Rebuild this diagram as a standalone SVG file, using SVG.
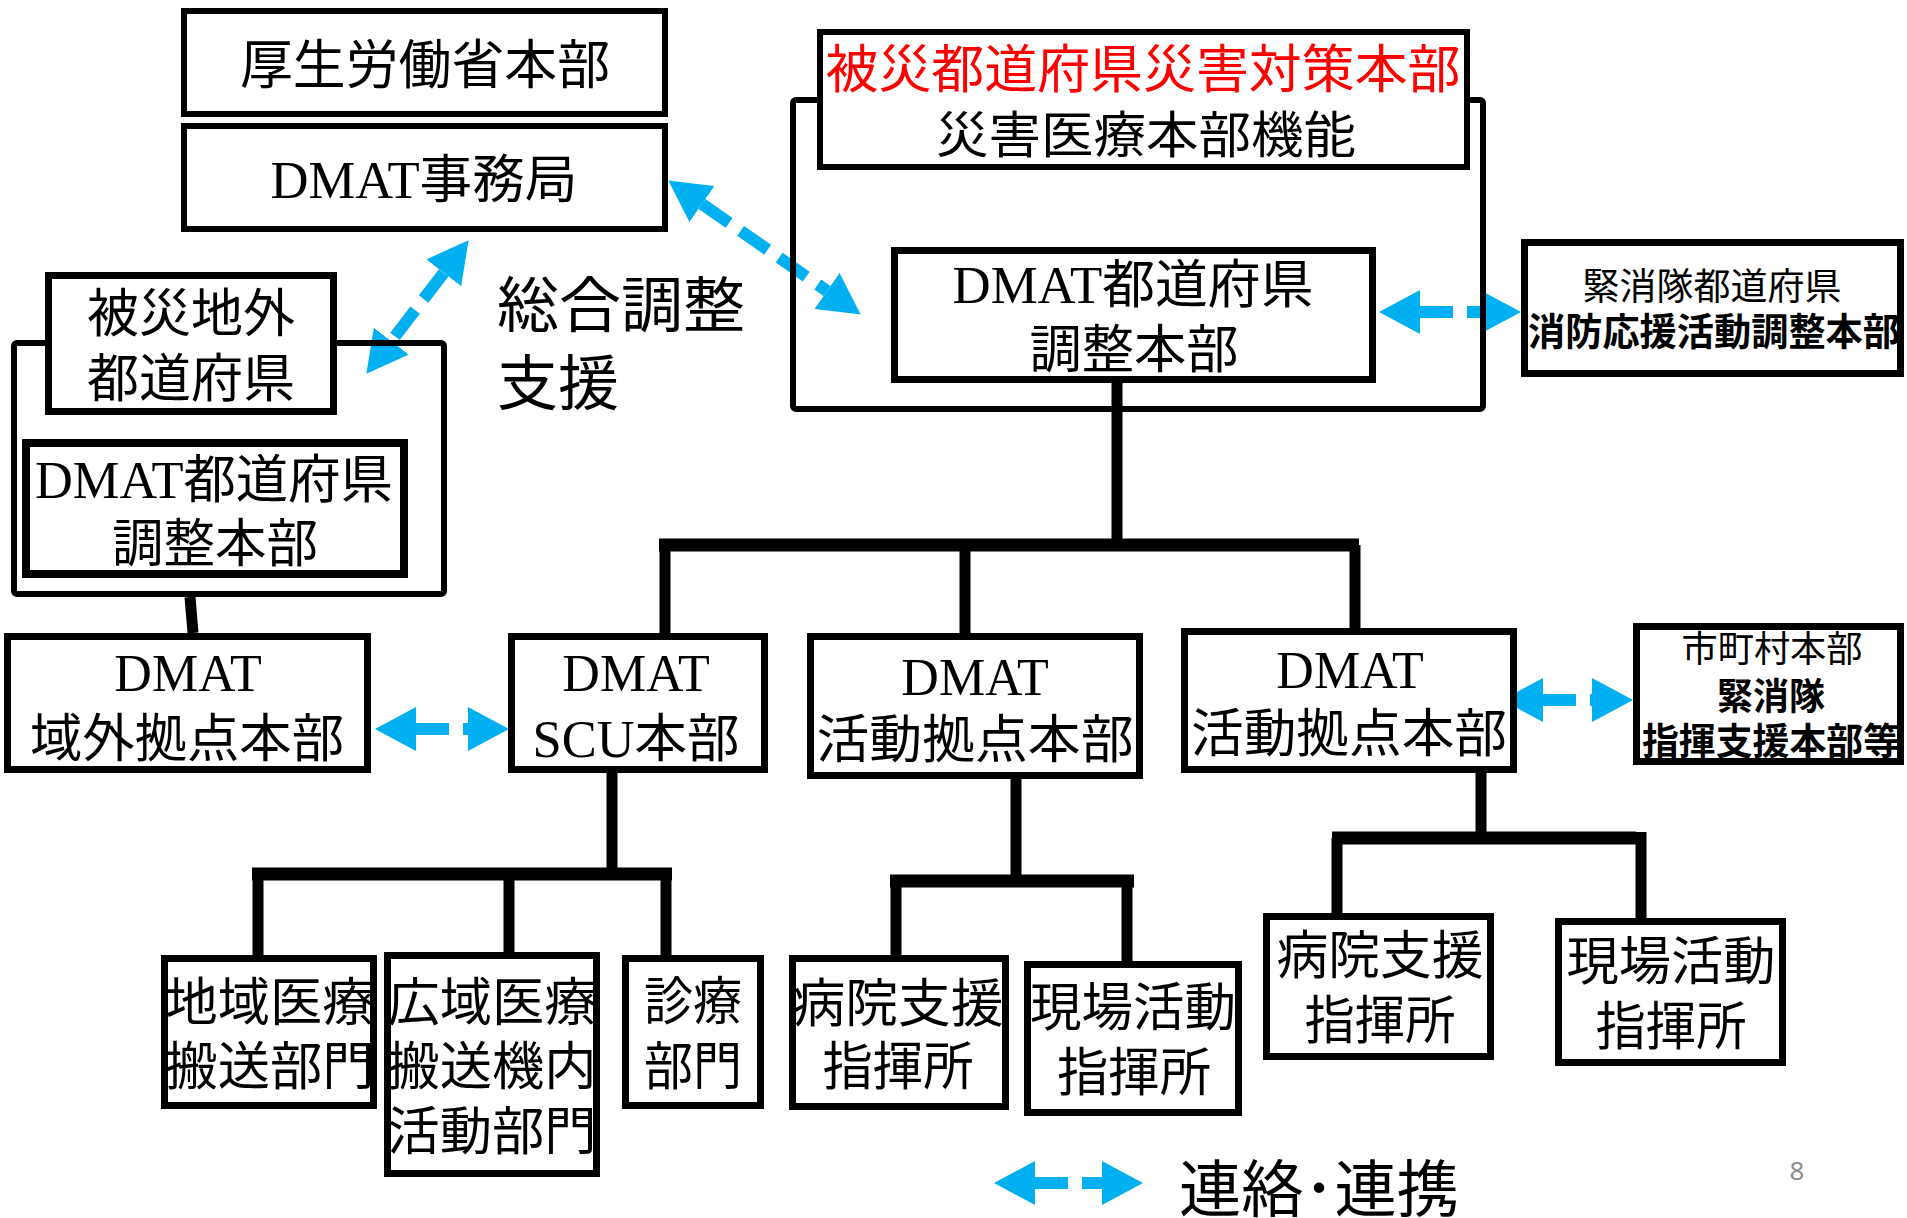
<svg xmlns="http://www.w3.org/2000/svg" width="1907" height="1218" viewBox="0 0 1907 1218">
<style>
.bx{fill:#fff;stroke:#000;stroke-width:7}
.ct{fill:none;stroke:#000;stroke-width:6}
.t{font-family:"Noto Sans CJK JP",sans-serif;font-size:52px;fill:#000;text-anchor:middle}
.m{font-family:"Liberation Serif","Noto Sans CJK JP",serif;font-size:52px;fill:#000;text-anchor:middle}
.b{font-weight:bold}
.s{text-anchor:start}
.tr{fill:none;stroke:#000;stroke-width:11}
.tb{fill:none;stroke:#000;stroke-width:13}
.cn{fill:none;stroke:#00B0F0;stroke-width:12;stroke-dasharray:33 14;marker-start:url(#ah);marker-end:url(#ah)}
</style>
<defs>
<marker id="ah" markerUnits="userSpaceOnUse" markerWidth="42" markerHeight="44" viewBox="0 0 42 44" refX="0" refY="22" orient="auto-start-reverse"><path d="M0,0 L41,22 L0,44 Z" fill="#00B0F0"/></marker>
</defs>
<rect width="1907" height="1218" fill="#fff"/>

<g id="connectors">
<path class="tr" d="M1117,383 V545"/>
<path class="tb" d="M659,545 H1359"/>
<path class="tr" d="M665,545 V633 M965,545 V633 M1355,545 V628"/>
<path class="tr" d="M190,597 L193,633"/>
<path class="tr" d="M612,773 V874"/>
<path class="tb" d="M252,874 H672"/>
<path class="tr" d="M258,874 V955 M509,874 V952 M666,874 V955"/>
<path class="tr" d="M1016,779 V881"/>
<path class="tb" d="M890,881 H1134"/>
<path class="tr" d="M896,881 V955 M1127,881 V961"/>
<path class="tr" d="M1481,773 V838"/>
<path class="tb" d="M1332,838 H1636"/>
<path class="tr" d="M1337,838 V913 M1641,832 V918"/>
<path class="cn" d="M702,204 L827,291"/>
<path class="cn" d="M443.7,272.8 L391.3,341.2"/>
<path class="cn" d="M1420,312 L1480,312"/>
<path class="cn" d="M416,729 L468,729"/>
<path class="cn" d="M1543,700 L1592,700"/>
<path class="cn" d="M1035,1183 L1102,1183"/>
</g>

<g id="mhlw">
<rect class="bx" x="184" y="11" width="481" height="103" style="stroke-width:6"/>
<text class="t" x="425" y="84" style="font-size:53px" textLength="370" lengthAdjust="spacingAndGlyphs">厚生労働省本部</text>
</g>
<g id="dmat-office">
<rect class="bx" x="184" y="126" width="481" height="103" style="stroke-width:6"/>
<text class="m" x="424" y="198" textLength="307" lengthAdjust="spacingAndGlyphs">DMAT事務局</text>
</g>

<g id="outside-pref">
<rect class="ct" x="14" y="343" width="430" height="251" rx="3"/>
<rect class="bx" x="48.5" y="275.5" width="285" height="136"/>
<text class="t" x="191" y="332" textLength="208" lengthAdjust="spacingAndGlyphs">被災地外</text>
<text class="t" x="191" y="397" textLength="208" lengthAdjust="spacingAndGlyphs">都道府県</text>
</g>
<g id="outside-dmat-hq">
<rect class="bx" x="26" y="443" width="378" height="131" style="stroke-width:8"/>
<text class="m" x="214" y="498" textLength="358" lengthAdjust="spacingAndGlyphs">DMAT都道府県</text>
<text class="t" x="215" y="562" textLength="206" lengthAdjust="spacingAndGlyphs">調整本部</text>
</g>

<g id="coord-label">
<text class="t s" x="497" y="327" style="font-size:60px" textLength="248" lengthAdjust="spacingAndGlyphs">総合調整</text>
<text class="t s" x="497" y="405" style="font-size:60px" textLength="122" lengthAdjust="spacingAndGlyphs">支援</text>
</g>

<g id="affected-pref">
<rect class="ct" x="793" y="100" width="690" height="309" rx="3"/>
<rect class="bx" x="820" y="32" width="647" height="135" style="stroke-width:6"/>
<text class="t" x="1143" y="88" style="fill:#FF0000" textLength="635" lengthAdjust="spacingAndGlyphs">被災都道府県災害対策本部</text>
<text class="t" x="1146" y="153" style="font-size:50px" textLength="420" lengthAdjust="spacingAndGlyphs">災害医療本部機能</text>
</g>
<g id="pref-dmat-hq">
<rect class="bx" x="894.5" y="250.5" width="478" height="129"/>
<text class="m" x="1133" y="303" textLength="361" lengthAdjust="spacingAndGlyphs">DMAT都道府県</text>
<text class="t" x="1134" y="368" textLength="209" lengthAdjust="spacingAndGlyphs">調整本部</text>
</g>
<g id="fire-pref">
<rect class="bx" x="1524.5" y="242.5" width="376" height="131"/>
<text class="t" x="1712" y="300" style="font-size:37px" textLength="259" lengthAdjust="spacingAndGlyphs">緊消隊都道府県</text>
<text class="t b" x="1714" y="345" style="font-size:38px" textLength="372" lengthAdjust="spacingAndGlyphs">消防応援活動調整本部</text>
</g>

<g id="dmat-outside-base">
<rect class="bx" x="7.5" y="636.5" width="360" height="133"/>
<text class="m" x="188" y="691">DMAT</text>
<text class="t" x="187" y="757" textLength="314" lengthAdjust="spacingAndGlyphs">域外拠点本部</text>
</g>
<g id="dmat-scu">
<rect class="bx" x="511.5" y="636.5" width="253" height="133"/>
<text class="m" x="636" y="691">DMAT</text>
<text class="m" x="636" y="757" textLength="207" lengthAdjust="spacingAndGlyphs">SCU本部</text>
</g>
<g id="dmat-base-1">
<rect class="bx" x="810.5" y="636.5" width="329" height="139"/>
<text class="m" x="975" y="695">DMAT</text>
<text class="t" x="975" y="758" textLength="317" lengthAdjust="spacingAndGlyphs">活動拠点本部</text>
</g>
<g id="dmat-base-2">
<rect class="bx" x="1184.5" y="631.5" width="329" height="138"/>
<text class="m" x="1350" y="688">DMAT</text>
<text class="t" x="1349" y="752" textLength="316" lengthAdjust="spacingAndGlyphs">活動拠点本部</text>
</g>
<g id="city-hq">
<rect class="bx" x="1636.5" y="626.5" width="264" height="135"/>
<text class="t" x="1772" y="662" style="font-size:36px" textLength="181" lengthAdjust="spacingAndGlyphs">市町村本部</text>
<text class="t b" x="1771" y="710" style="font-size:37px" textLength="108" lengthAdjust="spacingAndGlyphs">緊消隊</text>
<text class="t b" x="1771" y="755" style="font-size:37px" textLength="258" lengthAdjust="spacingAndGlyphs">指揮支援本部等</text>
</g>

<g id="regional-transport">
<rect class="bx" x="164.5" y="958.5" width="209" height="147"/>
<text class="t" x="270" y="1021" textLength="209" lengthAdjust="spacingAndGlyphs">地域医療</text>
<text class="t" x="270" y="1085" textLength="209" lengthAdjust="spacingAndGlyphs">搬送部門</text>
</g>
<g id="wide-transport">
<rect class="bx" x="387.5" y="955.5" width="209" height="218"/>
<text class="t" x="492" y="1021" textLength="209" lengthAdjust="spacingAndGlyphs">広域医療</text>
<text class="t" x="492" y="1085" textLength="209" lengthAdjust="spacingAndGlyphs">搬送機内</text>
<text class="t" x="492" y="1150" textLength="209" lengthAdjust="spacingAndGlyphs">活動部門</text>
</g>
<g id="clinic">
<rect class="bx" x="625.5" y="958.5" width="135" height="147"/>
<text class="t" x="693" y="1020" textLength="98" lengthAdjust="spacingAndGlyphs">診療</text>
<text class="t" x="693" y="1085" textLength="98" lengthAdjust="spacingAndGlyphs">部門</text>
</g>
<g id="hospital-1">
<rect class="bx" x="792.5" y="958.5" width="213" height="148"/>
<text class="t" x="898" y="1022" textLength="211" lengthAdjust="spacingAndGlyphs">病院支援</text>
<text class="t" x="898" y="1085" textLength="151" lengthAdjust="spacingAndGlyphs">指揮所</text>
</g>
<g id="field-1">
<rect class="bx" x="1027.5" y="964.5" width="211" height="148"/>
<text class="t" x="1133" y="1026" textLength="206" lengthAdjust="spacingAndGlyphs">現場活動</text>
<text class="t" x="1134" y="1091" textLength="154" lengthAdjust="spacingAndGlyphs">指揮所</text>
</g>
<g id="hospital-2">
<rect class="bx" x="1266.5" y="916.5" width="224" height="140"/>
<text class="t" x="1380" y="974" textLength="207" lengthAdjust="spacingAndGlyphs">病院支援</text>
<text class="t" x="1380" y="1039" textLength="151" lengthAdjust="spacingAndGlyphs">指揮所</text>
</g>
<g id="field-2">
<rect class="bx" x="1558.5" y="921.5" width="224" height="141"/>
<text class="t" x="1671" y="980" textLength="209" lengthAdjust="spacingAndGlyphs">現場活動</text>
<text class="t" x="1671" y="1045" textLength="151" lengthAdjust="spacingAndGlyphs">指揮所</text>
</g>

<g id="legend">
<text class="t s" x="1179" y="1212" style="font-size:62px" textLength="280" lengthAdjust="spacingAndGlyphs">連絡･連携</text>
</g>
<text x="1797" y="1180" font-family="'Noto Sans',sans-serif" font-size="26" fill="#8C8C8C" text-anchor="middle">8</text>
</svg>
